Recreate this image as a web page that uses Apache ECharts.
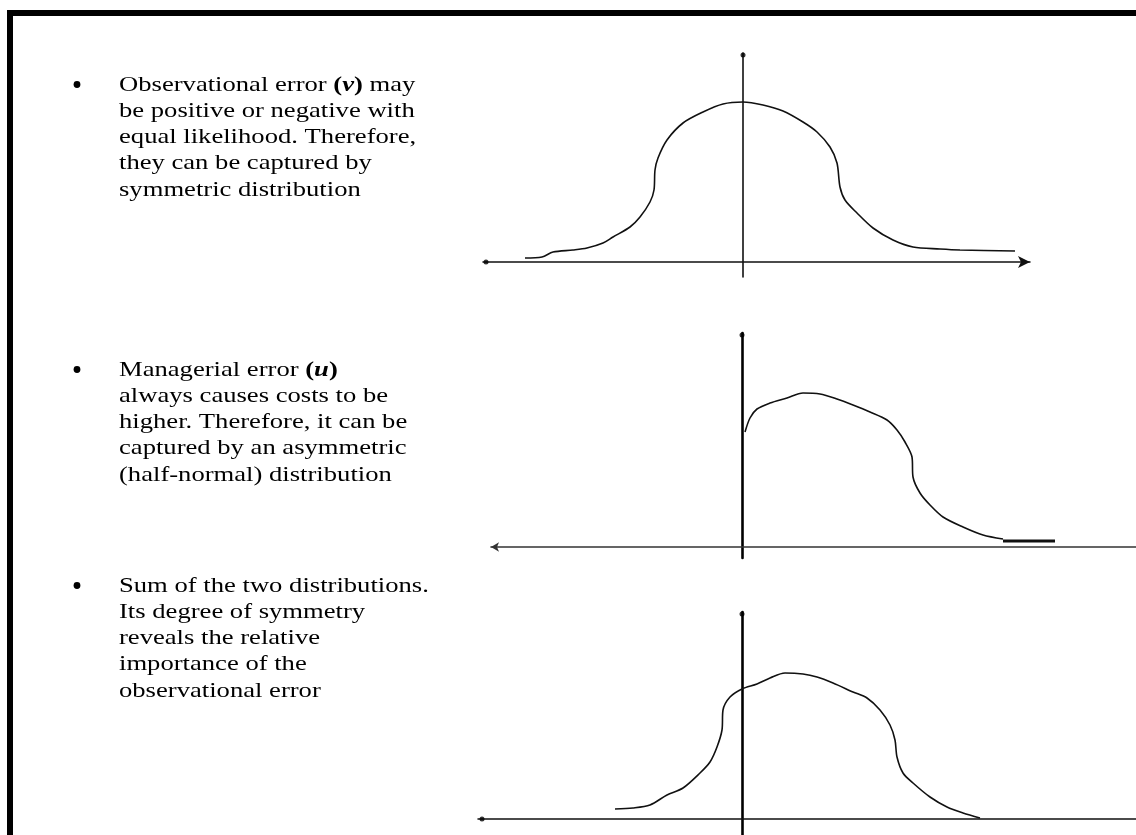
<!DOCTYPE html>
<html>
<head>
<meta charset="utf-8">
<script src="https://cdn.jsdelivr.net/npm/echarts@6/dist/echarts.min.js"></script>
<style>
    html, body { margin: 0; padding: 0; background: #fff; }
    #main { width: 1136px; height: 835px; }
</style>
</head>
<body>
<div id="main"></div>
<script>
// observational error v (symmetric)
var obsX = [-21.8, -20.1, -19, -17, -15.6, -14, -13, -11.3, -10.3, -9.3, -8.9, -8.8, -8.5, -7.6, -6, -4, -2, 0,
    2, 4, 6, 7.4, 8.7, 9.4, 9.7, 10.2, 11.4, 13, 15, 17, 19.7, 21.7, 27.2];
var obsY = [0.4, 0.5, 1.0, 1.2, 1.4, 1.9, 2.5, 3.5, 4.5, 6.0, 7.2, 9.2, 10.4, 12.2, 13.9, 15.0, 15.8, 16.0,
    15.7, 15.1, 14.0, 13.0, 11.5, 9.9, 7.5, 6.2, 4.9, 3.4, 2.2, 1.5, 1.3, 1.2, 1.1];

// managerial error u (half-normal)
var manX = [0.3, 0.8, 1.5, 2.8, 4.5, 6.1, 7.8, 9.5, 11.1, 12.8, 14.5, 15.5, 16.3, 17.0, 17.1, 17.8, 18.8,
    20.1, 22.1, 24.1, 26.1];
var manY = [11.5, 12.9, 13.8, 14.4, 14.9, 15.4, 15.3, 14.8, 14.2, 13.5, 12.7, 11.7, 10.5, 9.0, 7.0, 5.4, 4.2,
    3.0, 2.0, 1.2, 0.8];
var manTailX = [26.1, 31.3];
var manTailY = [0.6, 0.6];

// sum of the two
var sumX = [-12.7, -10.9, -9.2, -7.5, -5.9, -4.2, -3.2, -2.5, -2.0, -1.9, -1.2, 0, 1.5, 2.8, 4.3, 6.1, 7.5,
    9.1, 11.1, 12.5, 13.8, 14.8, 15.3, 15.5, 16.1, 17.1, 18.8, 20.5, 22.1, 23.8];
var sumY = [1.0, 1.1, 1.4, 2.4, 3.1, 4.6, 5.7, 7.2, 8.9, 10.9, 12.2, 13.0, 13.5, 14.1, 14.6, 14.5, 14.2,
    13.6, 12.7, 12.1, 10.9, 9.4, 7.9, 6.2, 4.6, 3.6, 2.2, 1.2, 0.6, 0.1];

var bulletText = [
    ['Observational error {b|(}{bi|v}{b|)} may', 'be positive or negative with', 'equal likelihood. Therefore,',
        'they can be captured by', 'symmetric distribution'],
    ['Managerial error {b|(}{bi|u}{b|)}', 'always causes costs to be', 'higher. Therefore, it can be',
        'captured by an asymmetric', '(half-normal) distribution'],
    ['Sum of the two distributions.', 'Its degree of symmetry', 'reveals the relative', 'importance of the',
        'observational error']
];

(function () {
    var myChart = echarts.init(document.getElementById('main'));

    function zip(xs, ys) {
        var res = [];
        for (var i = 0; i < xs.length; i++) {
            res.push([xs[i], ys[i]]);
        }
        return res;
    }

    var family = '"Liberation Serif", "Times New Roman", serif';
    var lh = 26.2;
    function textStyle(lines, size) {
        return {
            text: lines.join('\n'),
            font: size + 'px ' + family,
            fill: '#000',
            lineHeight: lh,
            verticalAlign: 'top',
            rich: {
                b: { font: 'bold ' + size + 'px ' + family, lineHeight: lh },
                bi: { font: 'italic bold ' + size + 'px ' + family, lineHeight: lh }
            }
        };
    }

    var blockTop = [72, 357, 573];
    var graphics = [
        { type: 'rect', shape: { x: 7, y: 10, width: 1129, height: 6 }, style: { fill: '#000' } },
        { type: 'rect', shape: { x: 7, y: 10, width: 6, height: 825 }, style: { fill: '#000' } }
    ];
    for (var i = 0; i < bulletText.length; i++) {
        // bullet dot, centred on the first text line
        graphics.push({ type: 'circle', shape: { cx: 77, cy: blockTop[i] + 12.5, r: 3.4 }, style: { fill: '#000' } });
        graphics.push({ type: 'text', x: 119, y: blockTop[i], scaleX: 1.21, style: textStyle(bulletText[i], 22) });
    }

    var grids = [
        { left: 483, top: 53, width: 547, height: 224 },
        { left: 491, top: 333, width: 645, height: 225 },
        { left: 478, top: 612, width: 658, height: 223 }
    ];
    var ranges = [
        { x: [-26, 28.7], y: [-1.5, 20.9] },
        { x: [-25.1, 39.4], y: [-1.1, 21.4] },
        { x: [-26.4, 39.4], y: [-1.6, 20.7] }
    ];
    var xLine = [
        { color: '#111', width: 1.5, symbol: ['none', 'arrow'], size: [9, 12] },
        { color: '#333', width: 1.6, symbol: ['arrow', 'none'], size: [7, 8] },
        { color: '#111', width: 1.5, symbol: ['none', 'none'], size: [7, 8] }
    ];
    var yWidth = [1.5, 2.6, 2.6];

    var xAxis = [], yAxis = [];
    for (var k = 0; k < 3; k++) {
        xAxis.push({
            type: 'value', gridIndex: k, min: ranges[k].x[0], max: ranges[k].x[1],
            axisLine: {
                onZero: true, symbol: xLine[k].symbol, symbolSize: xLine[k].size,
                lineStyle: { color: xLine[k].color, width: xLine[k].width }
            },
            axisTick: { show: false }, axisLabel: { show: false }, splitLine: { show: false }
        });
        yAxis.push({
            type: 'value', gridIndex: k, min: ranges[k].y[0], max: ranges[k].y[1],
            axisLine: { onZero: true, lineStyle: { color: '#000', width: yWidth[k] } },
            axisTick: { show: false }, axisLabel: { show: false }, splitLine: { show: false }
        });
    }

    function curve(idx, data, width) {
        return {
            type: 'line', xAxisIndex: idx, yAxisIndex: idx, data: data,
            showSymbol: false, smooth: 0.3, silent: true,
            lineStyle: { color: '#111', width: width }
        };
    }

    // small dots at the ends of the axes
    var dots = [
        [[ranges[0].x[0] + 0.3, 0], [0, ranges[0].y[1] - 0.2]],
        [[0, ranges[1].y[1] - 0.2]],
        [[ranges[2].x[0] + 0.4, 0], [0, ranges[2].y[1] - 0.2]]
    ];
    var series = [
        curve(0, zip(obsX, obsY), 1.6),
        curve(1, zip(manX, manY), 1.6),
        curve(1, zip(manTailX, manTailY), 3),
        curve(2, zip(sumX, sumY), 1.6)
    ];
    for (var d = 0; d < 3; d++) {
        series.push({
            type: 'scatter', xAxisIndex: d, yAxisIndex: d, data: dots[d],
            symbolSize: 5, itemStyle: { color: '#000' }, silent: true
        });
    }

    var option = {
        backgroundColor: '#fff',
        animation: false,
        grid: grids,
        xAxis: xAxis,
        yAxis: yAxis,
        series: series,
        graphic: graphics
    };
    myChart.setOption(option);
    window.addEventListener('resize', function () {
        myChart.resize();
    });
})();
</script>
</body>
</html>
